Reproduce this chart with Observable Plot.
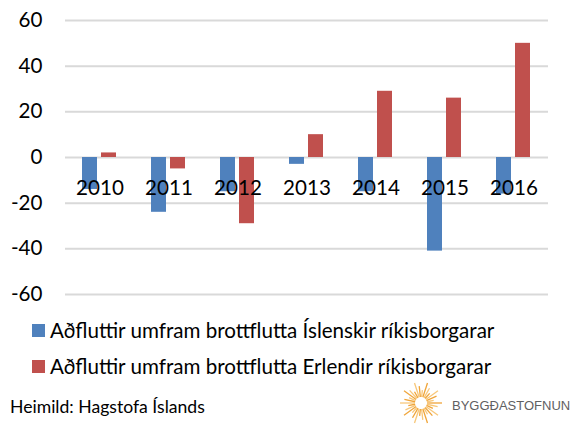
<!DOCTYPE html>
<html>
<head>
<meta charset="utf-8">
<script src="https://cdn.jsdelivr.net/npm/d3@7"></script>
<script src="https://cdn.jsdelivr.net/npm/@observablehq/plot@0.6"></script>
<style>
  html, body { margin: 0; padding: 0; background: #fff; }
  #wrap { position: relative; width: 576px; height: 424px; font-family: Lato, "Open Sans", sans-serif; color: #000; overflow: hidden; }
  #chart { position: absolute; left: 0; top: 0; }
  .leg { position: absolute; left: 32px; font-size: 20.6px; display: flex; align-items: center; white-space: nowrap; }
  .sw { width: 13px; height: 13px; margin-right: 5px; }
  #caption { position: absolute; left: 10px; top: 396px; font-size: 17.6px; white-space: nowrap; }
  #logo { position: absolute; left: 398px; top: 381px; }
</style>
</head>
<body>
<div id="wrap">
  <div id="chart"></div>
  <div id="legend"></div>
  <div id="caption">Heimild: Hagstofa Íslands</div>
  <div id="logo"></div>
</div>
<script>
const years = ["2010", "2011", "2012", "2013", "2014", "2015", "2016"];
const icelandic = [-14, -24, -15, -3, -15, -41, -16];
const foreign = [2, -5, -29, 10, 29, 26, 50];
const seriesNames = [
  "Aðfluttir umfram brottflutta Íslenskir ríkisborgarar",
  "Aðfluttir umfram brottflutta Erlendir ríkisborgarar"
];
const seriesColors = ["#4f81bd", "#c0504d"];
const yTicks = [-60, -40, -20, 0, 20, 40, 60];

const data = years.flatMap((yr, i) => [
  {year: yr, series: seriesNames[0], value: icelandic[i]},
  {year: yr, series: seriesNames[1], value: foreign[i]}
]);

const chart = Plot.plot({
  width: 576,
  height: 312,
  marginLeft: 62,
  marginRight: 26,
  marginTop: 20,
  marginBottom: 18,
  style: {fontFamily: "Lato, 'Open Sans', sans-serif", fontSize: "20.6px", color: "#000", background: "transparent"},
  fx: {domain: years, padding: 0, axis: null},
  x: {domain: seriesNames, paddingInner: 0.2, paddingOuter: 0.84, axis: null},
  y: {domain: [-60, 60], ticks: yTicks, tickSize: 0, tickPadding: 23, label: null,
      tickFormat: d => (d < 0 ? "-" + Math.abs(d) : String(d))},
  color: {domain: seriesNames, range: seriesColors},
  marks: [
    Plot.ruleY(yTicks, {stroke: "#d9d9d9", strokeWidth: 2}),
    Plot.barY(data, {fx: "year", x: "series", y: "value", fill: "series"}),
    Plot.text(years, {fx: d => d, y: d => 0, text: d => d, dy: 31, fontSize: 20.6, fill: "#000"})
  ]
});
document.getElementById("chart").appendChild(chart);

const legend = document.getElementById("legend");
seriesNames.forEach((name, i) => {
  const row = document.createElement("div");
  row.className = "leg";
  row.style.top = (318 + i * 36) + "px";
  const sw = document.createElement("div");
  sw.className = "sw";
  sw.style.background = seriesColors[i];
  const t = document.createElement("span");
  t.textContent = name;
  row.appendChild(sw);
  row.appendChild(t);
  legend.appendChild(row);
});

// Logo decoration (sunburst + wordmark)
(function () {
  const ns = "http://www.w3.org/2000/svg";
  const svg = document.createElementNS(ns, "svg");
  svg.setAttribute("width", 174);
  svg.setAttribute("height", 43);
  const cx = 23, cy = 22;
  for (let k = 0; k < 30; k++) {
    const a = (k / 30) * Math.PI * 2;
    const r0 = 6, r1 = (k % 3 === 0) ? 21 : (k % 3 === 1 ? 17 : 13);
    const ln = document.createElementNS(ns, "line");
    ln.setAttribute("x1", cx + r0 * Math.cos(a));
    ln.setAttribute("y1", cy + r0 * Math.sin(a));
    ln.setAttribute("x2", cx + r1 * Math.cos(a));
    ln.setAttribute("y2", cy + r1 * Math.sin(a));
    ln.setAttribute("stroke", k % 2 ? "#f7c77a" : "#f0a53a");
    ln.setAttribute("stroke-width", 1.3);
    svg.appendChild(ln);
  }
  const tx = document.createElementNS(ns, "text");
  tx.setAttribute("x", 54);
  tx.setAttribute("y", 29);
  tx.setAttribute("font-family", "'Liberation Sans', Arial, sans-serif");
  tx.setAttribute("font-size", 13);
  tx.setAttribute("fill", "#5f6062");
  tx.textContent = "BYGGÐASTOFNUN";
  svg.appendChild(tx);
  document.getElementById("logo").appendChild(svg);
})();
</script>
</body>
</html>
